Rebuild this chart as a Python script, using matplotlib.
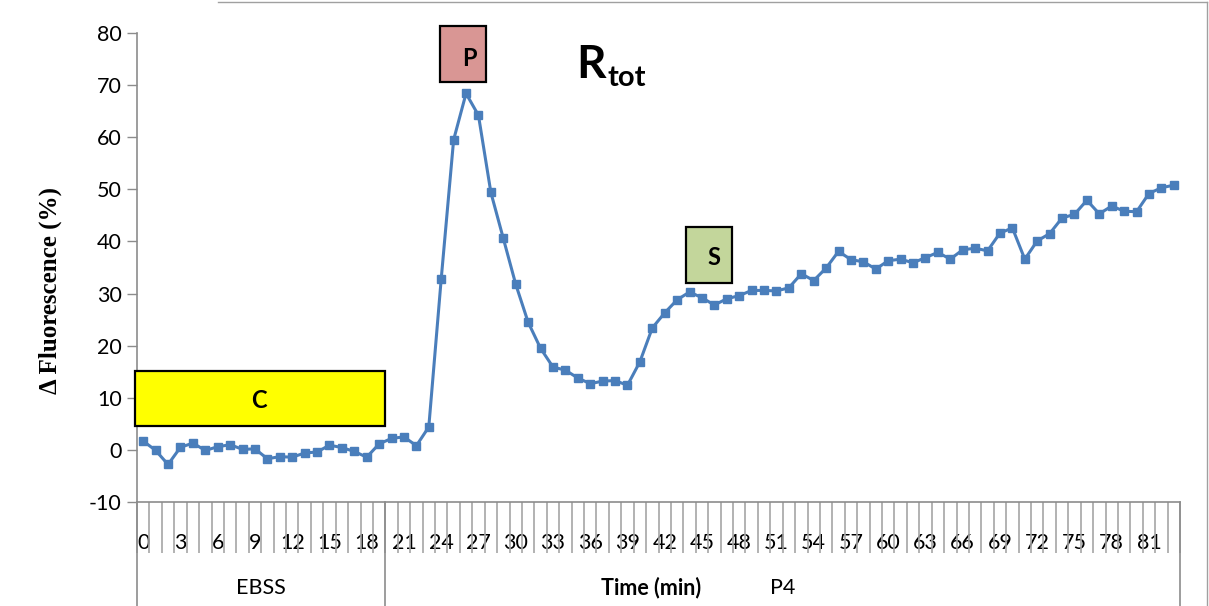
import numpy as np
import matplotlib
matplotlib.use('Agg')
import matplotlib.pyplot as plt
from matplotlib.patches import Rectangle
from matplotlib.lines import Line2D

plt.rcParams['font.family'] = ['Lato', 'DejaVu Sans']
plt.rcParams['axes.unicode_minus'] = False

# minutes shown on the category axis
minutes = list(range(84))
# delta fluorescence (%) per minute
fluo = [1.7, -0.1, -2.8, 0.5, 1.3, -0.1, 0.6, 1.0, 0.1, 0.2,
        -1.7, -1.3, -1.4, -0.6, -0.4, 0.9, 0.45, -0.3, -1.4, 1.15,
        2.2, 2.5, 0.8, 4.4, 32.8, 59.5, 68.4, 64.2, 49.4, 40.6,
        31.8, 24.5, 19.5, 15.9, 15.3, 13.8, 12.7, 13.2, 13.3, 12.4,
        16.9, 23.4, 26.3, 28.8, 30.3, 29.2, 27.8, 29.0, 29.6, 30.6,
        30.6, 30.5, 31.1, 33.8, 32.5, 34.9, 38.1, 36.5, 36.1, 34.7,
        36.3, 36.6, 35.9, 36.9, 37.9, 36.6, 38.4, 38.7, 38.2, 41.6,
        42.6, 36.6, 40.1, 41.5, 44.5, 45.2, 47.9, 45.3, 46.8, 45.8,
        45.7, 49.2, 50.3, 50.8]
# second level of the category axis
group_names = ['EBSS', 'P4']
group_sizes = [20, 64]
yticks = [-10, 0, 10, 20, 30, 40, 50, 60, 70, 80]

W, H = 1209, 606
fig = plt.figure(figsize=(W / 100, H / 100), dpi=100)
ax = fig.add_axes([137 / W, 1 - 502 / H, (1180 - 137) / W, (502 - 33) / H])

x = np.arange(len(minutes))
ax.plot(x, fluo, color='#4A7EBB', lw=2.2, marker='s', ms=5.5,
        mec='#4A7EBB', mfc='#4A7EBB', zorder=3)

gray = '#8C8C8C'
ax.set_xlim(-0.5, len(minutes) - 0.5)
ax.set_ylim(-10, 80)
ax.set_yticks(yticks)
ax.tick_params(axis='y', direction='out', length=7, width=1, color=gray,
               labelsize=15.5, pad=4)
for s in ['top', 'right']:
    ax.spines[s].set_visible(False)
for s in ['left', 'bottom']:
    ax.spines[s].set_color(gray)
    ax.spines[s].set_linewidth(1.2)

# category labels every 3 minutes, long boundary ticks for every category
ax.set_xticks(x[::3])
ax.set_xticklabels([str(m) for m in minutes[::3]])
ax.tick_params(axis='x', which='major', length=0, labelsize=15.5, pad=22)
ax.set_xticks(np.arange(-0.5, len(minutes), 1), minor=True)
ax.tick_params(axis='x', which='minor', direction='out', length=37,
               width=1.2, color='#A6A6A6')

# group level of the axis
tr = ax.get_xaxis_transform()
edges = np.concatenate([[0], np.cumsum(group_sizes)]) - 0.5
for e in edges:
    ax.add_line(Line2D([e, e], [0, -104 / 469], transform=tr, color=gray,
                       lw=1.2, clip_on=False))
for name, a, b in zip(group_names, edges[:-1], edges[1:]):
    ax.text((a + b) / 2, -86 / 469, name, transform=tr, ha='center',
            va='center', fontsize=15.5)
ax.text(40.9, -86 / 469, 'Time (min)', transform=tr, ha='center',
        va='center', fontsize=15.5, fontweight='bold')

fig.text(50 / W, 1 - 291 / H, '\u0394 Fluorescence (%)', rotation=90,
         ha='center', va='center', fontsize=18, fontweight='bold',
         family=['Liberation Serif', 'DejaVu Serif'])

# phase boxes
boxes = [('C', -0.66, 4.6, 20.13, 10.6, '#FFFF00', 9.3, 9.4),
         ('P', 23.9, 70.6, 3.7, 10.8, '#D99694', 26.3, 75.2),
         ('S', 43.7, 32.1, 3.7, 10.7, '#C3D69B', 46.0, 37.0)]
for lab, x0, y0, w, h, fc, tx, ty in boxes:
    ax.add_patch(Rectangle((x0, y0), w, h, fc=fc, ec='black', lw=1.6,
                           clip_on=False, zorder=4))
    ax.text(tx, ty, lab, ha='center', va='center', fontsize=17,
            fontweight='bold', zorder=5)

fig.text(576 / W, 1 - 78 / H, 'R', fontsize=33, fontweight='bold',
         va='baseline', ha='left')
fig.text(608 / W, 1 - 86 / H, 'tot', fontsize=21, fontweight='bold',
         va='baseline', ha='left')

# outer chart frame (partly visible)
fig.add_artist(Line2D([0.18, 0.9985], [0.997, 0.997], transform=fig.transFigure,
                      color='#A0A0A0', lw=1))
fig.add_artist(Line2D([0.9985, 0.9985], [0.0, 0.997], transform=fig.transFigure,
                      color='#A0A0A0', lw=1))

fig.savefig('out.png', dpi=100)
